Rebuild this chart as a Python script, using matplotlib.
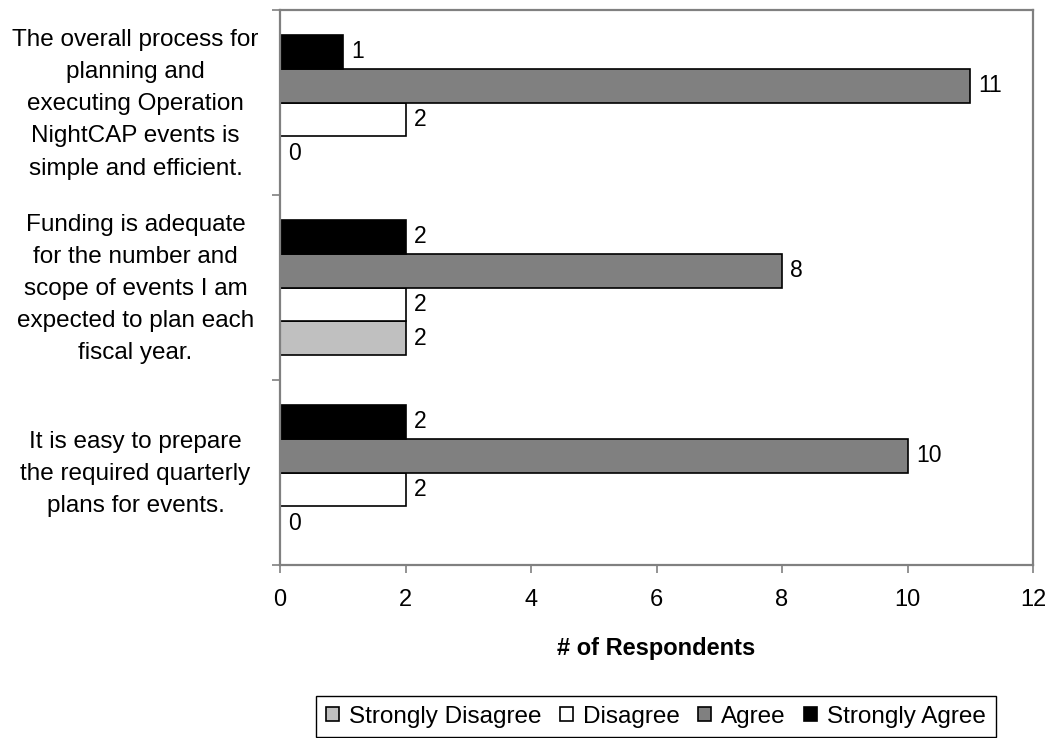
import matplotlib
matplotlib.use('Agg')
import matplotlib.pyplot as plt
import matplotlib.transforms as mtransforms
import numpy as np
from matplotlib.patches import Patch

plt.rcParams['font.family'] = ['Liberation Sans', 'DejaVu Sans']

# bottom to top, as drawn on the y axis
questions = [
    "It is easy to prepare\nthe required quarterly\nplans for events.",
    "Funding is adequate\nfor the number and\nscope of events I am\nexpected to plan each\nfiscal year.",
    "The overall process for\nplanning and\nexecuting Operation\nNightCAP events is\nsimple and efficient.",
]
series = ["Strongly Disagree", "Disagree", "Agree", "Strongly Agree"]
strongly_disagree = [0, 2, 0]
disagree = [2, 2, 2]
agree = [10, 8, 11]
strongly_agree = [2, 2, 1]
x_ticks = [0, 2, 4, 6, 8, 10, 12]

values = [strongly_disagree, disagree, agree, strongly_agree]
colors = ['#C0C0C0', '#FFFFFF', '#808080', '#000000']
GRAY = '#808080'

fig = plt.figure(figsize=(10.51, 7.38), dpi=100)
ax = fig.add_axes([280 / 1051, 1 - 565 / 738, 753 / 1051, 555 / 738])

h = 0.1824
centers = np.arange(len(questions)) + 0.5
for i, (vals, col) in enumerate(zip(values, colors)):
    y = centers + (i - 1.5) * h
    ax.barh(y, vals, height=h, color=col, edgecolor='black', linewidth=1.2,
            label=series[i], zorder=2)
    for yy, v in zip(y, vals):
        ax.annotate(str(v), (v, yy), xytext=(6, 0), textcoords='offset points',
                    ha='left', va='center', fontsize=16.5, color='black')

ax.set_xlim(0, 12)
ax.set_ylim(0, len(questions))
ax.set_xticks(x_ticks)
ax.set_xticklabels([str(t) for t in x_ticks], fontsize=17)
ax.tick_params(axis='x', direction='out', length=6, width=1.2, color=GRAY, pad=11)

ax.set_yticks(centers)
ax.set_yticklabels(questions, fontsize=17.5, ha='center', multialignment='center',
                   linespacing=1.6)
ax.tick_params(axis='y', which='major', length=0, pad=104)
ax.set_yticks(np.arange(len(questions) + 1), minor=True)
ax.tick_params(axis='y', which='minor', direction='out', length=6, width=1.2, color=GRAY)

# nudge the question labels up a little
shift = mtransforms.ScaledTranslation(0, 6 / 100, fig.dpi_scale_trans)
for lab in ax.get_yticklabels():
    lab.set_transform(lab.get_transform() + shift)

for s in ax.spines.values():
    s.set_color(GRAY)
    s.set_linewidth(1.6)
    s.set_zorder(4)

ax.set_xlabel("# of Respondents", fontsize=17, fontweight='bold', labelpad=19)

handles = [Patch(facecolor=c, edgecolor='black', linewidth=1.2, label=s)
           for s, c in zip(series, colors)]
leg = fig.legend(handles=handles, loc='upper center', ncol=4,
                 bbox_to_anchor=(656 / 1051, 1 - 696 / 738),
                 fontsize=17.5, fancybox=False, edgecolor='black',
                 handlelength=0.55, handleheight=0.55, handletextpad=0.4,
                 columnspacing=0.75, borderpad=0.4, borderaxespad=0,
                 framealpha=1)
leg.get_frame().set_linewidth(1.0)

fig.savefig('out.png', dpi=100, facecolor='white')
